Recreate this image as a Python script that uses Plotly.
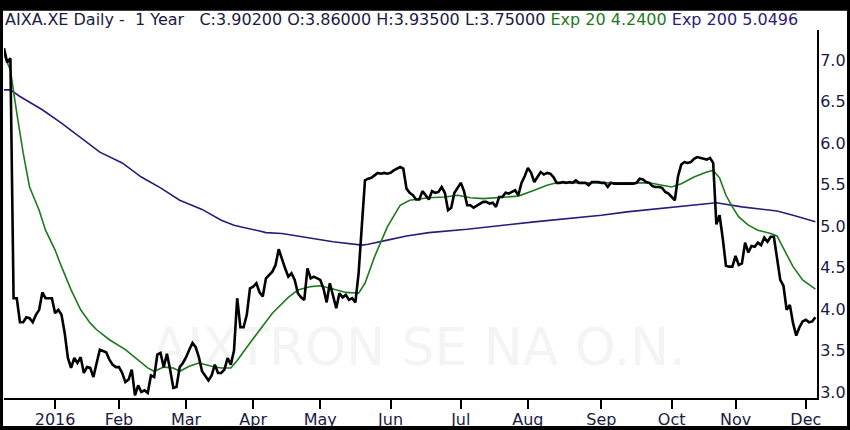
import plotly.graph_objects as go

# trading-day index (0 = first bar, ~early Dec 2015) and daily close
close_day = [0, 1, 2, 3, 4, 5, 6, 7, 8, 9, 10, 11, 12, 13, 15, 16, 17, 18, 19, 20,
             21, 22, 23, 24, 25, 26, 27, 28, 29, 30, 32, 33, 34, 35, 36, 37, 38, 39, 40, 41,
             42, 43, 44, 45, 46, 47, 48, 49, 50, 51, 52, 53, 54, 55, 56, 57, 58, 59, 60, 61,
             62, 63, 64, 65, 66, 67, 68, 69, 70, 71, 72, 73, 74, 75, 76, 77, 78, 79, 80, 81,
             82, 84, 85, 86, 87, 88, 89, 90, 91, 92, 93, 94, 95, 96, 97, 99, 100, 101, 102, 103,
             104, 105, 106, 107, 108, 109, 110, 111, 112, 113, 114, 115, 116, 117, 118, 119, 120, 121, 122, 124,
             125, 126, 127, 128, 129, 130, 131, 132, 133, 134, 135, 136, 137, 138, 139, 140, 141, 143, 144, 145,
             146, 147, 148, 149, 150, 151, 152, 153, 154, 155, 156, 157, 158, 159, 160, 161, 162, 163, 164, 165,
             166, 167, 168, 169, 170, 171, 172, 173, 174, 175, 176, 177, 178, 179, 180, 181, 182, 183, 184, 185,
             186, 187, 188, 189, 190, 191, 192, 193, 194, 195, 196, 197, 198, 199, 200, 201, 202, 203, 204, 205,
             206, 207, 208, 209, 210, 211, 212, 213, 214, 215, 216, 217, 218, 219, 220, 221, 222, 223, 224, 225,
             226, 227, 228, 229, 230, 231, 232, 233, 234, 235, 236, 237, 238, 239, 240, 241, 242, 243, 244, 245,
             246, 247, 248, 249, 250, 251, 252, 253, 254]
close_val = [7.14, 6.97, 7.02, 4.13, 4.13, 3.84, 3.84, 3.90, 3.89, 3.84, 3.93, 3.99, 4.20, 4.13, 4.13, 3.95, 3.99, 3.93, 3.71, 3.41,
             3.29, 3.41, 3.35, 3.42, 3.23, 3.30, 3.29, 3.18, 3.35, 3.51, 3.48, 3.39, 3.33, 3.30, 3.30, 3.23, 3.12, 3.15, 3.27, 2.96,
             3.08, 3.00, 3.02, 2.99, 3.20, 3.18, 3.45, 3.47, 3.30, 3.46, 3.27, 3.05, 3.06, 3.30, 3.35, 3.42, 3.51, 3.59, 3.54, 3.42,
             3.25, 3.20, 3.14, 3.20, 3.33, 3.23, 3.23, 3.27, 3.41, 3.33, 3.50, 4.13, 3.78, 3.78, 3.93, 4.25, 4.27, 4.31, 4.20, 4.15,
             4.37, 4.45, 4.53, 4.72, 4.59, 4.49, 4.39, 4.43, 4.35, 4.19, 4.14, 4.11, 4.49, 4.37, 4.39, 4.35, 4.25, 4.08, 4.31, 4.17,
             4.01, 4.19, 4.14, 4.17, 4.11, 4.13, 4.08, 4.43, 4.99, 5.55, 5.57, 5.58, 5.61, 5.64, 5.63, 5.64, 5.63, 5.64, 5.67, 5.71,
             5.69, 5.45, 5.40, 5.37, 5.32, 5.32, 5.42, 5.37, 5.32, 5.42, 5.40, 5.41, 5.47, 5.40, 5.19, 5.22, 5.40, 5.52, 5.42, 5.25,
             5.25, 5.22, 5.24, 5.27, 5.29, 5.29, 5.27, 5.28, 5.23, 5.35, 5.35, 5.40, 5.39, 5.41, 5.43, 5.37, 5.52, 5.60, 5.70, 5.64,
             5.53, 5.59, 5.65, 5.62, 5.64, 5.63, 5.59, 5.52, 5.52, 5.53, 5.52, 5.53, 5.52, 5.55, 5.52, 5.52, 5.52, 5.49, 5.53, 5.53,
             5.53, 5.52, 5.52, 5.47, 5.52, 5.51, 5.51, 5.51, 5.51, 5.51, 5.51, 5.51, 5.52, 5.57, 5.56, 5.53, 5.52, 5.48, 5.47, 5.47,
             5.46, 5.41, 5.39, 5.35, 5.31, 5.60, 5.74, 5.77, 5.76, 5.77, 5.81, 5.83, 5.82, 5.81, 5.80, 5.82, 5.76, 5.02, 5.13, 4.85,
             4.52, 4.51, 4.51, 4.64, 4.53, 4.55, 4.80, 4.68, 4.76, 4.75, 4.80, 4.77, 4.86, 4.81, 4.87, 4.87, 4.62, 4.35, 4.28, 3.99,
             4.05, 3.83, 3.68, 3.78, 3.85, 3.87, 3.84, 3.85, 3.90]

# 20-day exponential average
ema20_day = [0, 2, 4, 6, 8, 11, 13, 16, 18, 21, 24, 27, 29, 33, 38, 42, 45, 47, 50, 53,
             55, 58, 61, 65, 68, 71, 73, 76, 80, 84, 89, 92, 96, 99, 103, 107, 111, 113, 116, 120,
             124, 127, 133, 138, 142, 146, 150, 155, 161, 166, 170, 173, 178, 187, 197, 202, 206, 209, 212, 216,
             220, 222, 224, 226, 228, 230, 233, 236, 240, 242, 244, 247, 250, 254]
ema20_val = [7.06, 6.88, 6.36, 5.88, 5.47, 5.19, 4.95, 4.71, 4.51, 4.23, 3.99, 3.83, 3.75, 3.63, 3.51, 3.39, 3.29, 3.25, 3.30, 3.29,
             3.25, 3.31, 3.35, 3.31, 3.29, 3.29, 3.38, 3.54, 3.75, 3.95, 4.14, 4.23, 4.27, 4.28, 4.24, 4.20, 4.19, 4.31, 4.63, 4.99,
             5.25, 5.31, 5.34, 5.35, 5.37, 5.34, 5.33, 5.34, 5.36, 5.43, 5.49, 5.52, 5.52, 5.52, 5.52, 5.52, 5.49, 5.47, 5.51, 5.59,
             5.65, 5.67, 5.58, 5.37, 5.23, 5.11, 5.01, 4.95, 4.91, 4.88, 4.73, 4.51, 4.35, 4.24]

# 200-day exponential average
ema200_day = [0, 2, 5, 12, 18, 24, 30, 37, 43, 49, 55, 62, 68, 72, 74, 80, 82, 87, 93, 103,
              112, 114, 120, 126, 133, 145, 166, 187, 195, 211, 223, 231, 242, 247, 254]
ema200_val = [6.64, 6.64, 6.56, 6.40, 6.24, 6.06, 5.89, 5.76, 5.59, 5.46, 5.31, 5.20, 5.07, 5.01, 4.99, 4.94, 4.92, 4.91, 4.87, 4.81,
              4.77, 4.78, 4.83, 4.88, 4.92, 4.96, 5.05, 5.13, 5.17, 5.23, 5.28, 5.23, 5.18, 5.13, 5.05]

month_day = [16, 36, 57, 78, 99, 121, 143, 164, 187, 209, 229, 251]
month_label = ["2016", "Feb", "Mar", "Apr", "May", "Jun", "Jul", "Aug", "Sep", "Oct", "Nov", "Dec"]
price_ticks = [3.0, 3.5, 4.0, 4.5, 5.0, 5.5, 6.0, 6.5, 7.0]

navy = "#1b1b45"
green = "#1e7a1e"
purple = "#2e1a7a"

fig = go.Figure()
fig.add_trace(go.Scatter(x=ema200_day, y=ema200_val, mode="lines",
                         line=dict(color=purple, width=1.6), name="Exp 200"))
fig.add_trace(go.Scatter(x=ema20_day, y=ema20_val, mode="lines",
                         line=dict(color=green, width=1.6), name="Exp 20"))
fig.add_trace(go.Scatter(x=close_day, y=close_val, mode="lines",
                         line=dict(color="black", width=2.6), name="AIXA.XE"))

header = ("AIXA.XE Daily -&nbsp; 1 Year&nbsp;&nbsp; C:3.90200 O:3.86000 H:3.93500 L:3.75000 "
          f"<span style='color:{green}'>Exp 20 4.2400</span> "
          f"<span style='color:{purple}'>Exp 200 5.0496</span>")

fig.add_annotation(text=header, xref="paper", yref="paper", x=-0.001, y=1.028,
                   xanchor="left", yanchor="middle", showarrow=False,
                   font=dict(family="DejaVu Sans", size=16, color=navy))

# faint name watermark behind the lines
fig.add_shape(type="rect", xref="paper", yref="paper", x0=0.2, x1=0.82, y0=0.05, y1=0.25,
              layer="below", line=dict(width=0), fillcolor="rgba(0,0,0,0)",
              label=dict(text="AIXTRON SE NA O.N.", textposition="middle center",
                         font=dict(family="DejaVu Sans", size=52, color="#f4f4f4")))

# black picture frame round the whole image
frame = dict(type="rect", xref="paper", yref="paper", fillcolor="black",
             line=dict(width=0), layer="above")
fig.add_shape(x0=-0.05, x1=1.1, y0=1.052, y1=1.2, **frame)     # top band
fig.add_shape(x0=-0.05, x1=-0.0012, y0=-0.2, y1=1.2, **frame)  # left
fig.add_shape(x0=-0.05, x1=1.1, y0=-0.2, y1=-0.0761, **frame)  # bottom
fig.add_shape(x0=1.0369, x1=1.1, y0=-0.2, y1=1.2, **frame)     # right

fig.update_xaxes(range=[0, 254.5], tickmode="array", tickvals=month_day, ticktext=month_label,
                 showgrid=False, zeroline=False, showline=True, linecolor="black", linewidth=2,
                 ticks="outside", ticklen=9, tickwidth=2, tickcolor="black", automargin=False,
                 ticklabelstandoff=-3,
                 tickfont=dict(family="DejaVu Sans", size=16, color=navy))
fig.update_yaxes(range=[2.928, 7.361], side="right", tickmode="array", tickvals=price_ticks,
                 tickformat=".1f", showgrid=False, zeroline=False, showline=True,
                 linecolor="black", linewidth=2, ticks="", automargin=False,
                 ticklabelstandoff=-2,
                 tickfont=dict(family="DejaVu Sans", size=16, color=navy))

fig.update_layout(width=850, height=430, margin=dict(l=4, r=33, t=30, b=32),
                  plot_bgcolor="white", paper_bgcolor="white", showlegend=False)

fig.write_html("out.html", config={"displayModeBar": False},
               post_script="document.body.style.margin='0px';")
